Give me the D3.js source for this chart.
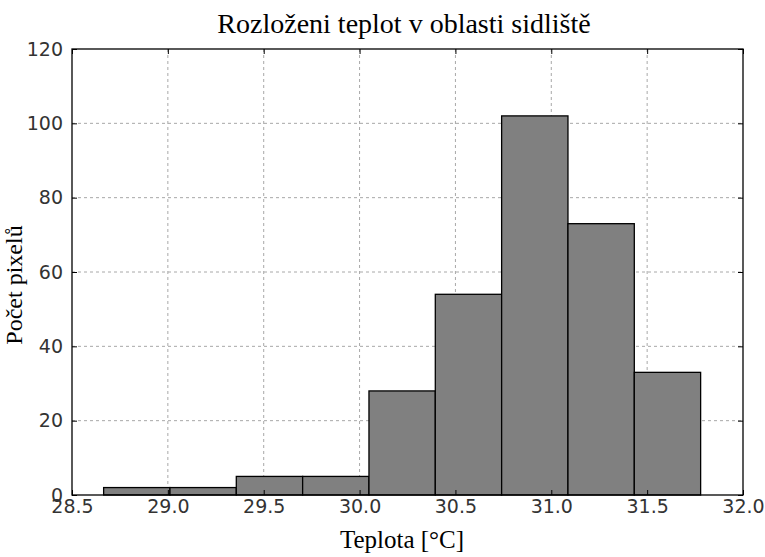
<!DOCTYPE html>
<html>
<head>
<meta charset="utf-8">
<script src="https://cdn.jsdelivr.net/npm/d3@7"></script>
<style>
    body { margin: 0; background: white; }
    .tick text { font-family: "DejaVu Sans", sans-serif; font-size: 19px; fill: #333; }
</style>
</head>
<body>
<div class="containerGraph"></div>
<script>
// bin edges of the histogram (temperature)
var binEdges = [28.665, 29.011, 29.357, 29.703, 30.049, 30.395, 30.741, 31.087, 31.433, 31.779];
// counts per bin
var binCounts = [2, 2, 5, 5, 28, 54, 102, 73, 33];
var xTicks = [28.5, 29.0, 29.5, 30.0, 30.5, 31.0, 31.5, 32.0];
var yTicks = [0, 20, 40, 60, 80, 100, 120];

var width = 765, height = 557;
var margin = {top: 49, bottom: 62, left: 72, right: 22};

var svg = d3.select(".containerGraph")
            .append("svg")
            .attr("width", width)
            .attr("height", height);

var xScale = d3.scaleLinear()
               .domain([28.5, 32.0])
               .range([margin.left, width - margin.right]);

var yScale = d3.scaleLinear()
               .domain([0, 120])
               .range([height - margin.bottom, margin.top]);

// grid lines
svg.append("g")
   .selectAll("line")
   .data(xTicks.slice(1, -1))
   .enter().append("line")
   .attr("x1", d => xScale(d)).attr("x2", d => xScale(d))
   .attr("y1", yScale(120)).attr("y2", yScale(0))
   .attr("stroke", "#a8a8a8").attr("stroke-dasharray", "3,3");

svg.append("g")
   .selectAll("line")
   .data(yTicks.slice(1, -1))
   .enter().append("line")
   .attr("y1", d => yScale(d)).attr("y2", d => yScale(d))
   .attr("x1", xScale(28.5)).attr("x2", xScale(32.0))
   .attr("stroke", "#a8a8a8").attr("stroke-dasharray", "3,3");

// bars
var bins = binCounts.map(function(c, i) { return {x0: binEdges[i], x1: binEdges[i + 1], count: c}; });
svg.append("g")
   .selectAll("rect")
   .data(bins)
   .enter().append("rect")
   .attr("x", d => xScale(d.x0))
   .attr("y", d => yScale(d.count))
   .attr("width", d => xScale(d.x1) - xScale(d.x0))
   .attr("height", d => yScale(0) - yScale(d.count))
   .attr("fill", "#808080")
   .attr("stroke", "black")
   .attr("stroke-width", 1.3);

// axes with inward ticks
var xAxis = d3.axisBottom(xScale).tickValues(xTicks).tickFormat(d3.format(".1f")).tickSizeInner(-5).tickSizeOuter(0).tickPadding(5);
var xAxisTop = d3.axisTop(xScale).tickValues(xTicks).tickFormat("").tickSizeInner(-5).tickSizeOuter(0);
var yAxis = d3.axisLeft(yScale).tickValues(yTicks).tickSizeInner(-5).tickSizeOuter(0).tickPadding(9);
var yAxisRight = d3.axisRight(yScale).tickValues(yTicks).tickFormat("").tickSizeInner(-5).tickSizeOuter(0);

svg.append("g").attr("transform", "translate(0," + yScale(0) + ")").call(xAxis);
svg.append("g").attr("transform", "translate(0," + yScale(120) + ")").call(xAxisTop);
svg.append("g").attr("transform", "translate(" + xScale(28.5) + ",0)").call(yAxis);
svg.append("g").attr("transform", "translate(" + xScale(32.0) + ",0)").call(yAxisRight);

svg.selectAll(".domain").remove();
svg.selectAll(".tick line").attr("stroke", "black");

// frame
svg.append("rect")
   .attr("x", xScale(28.5)).attr("y", yScale(120))
   .attr("width", xScale(32.0) - xScale(28.5))
   .attr("height", yScale(0) - yScale(120))
   .attr("fill", "none").attr("stroke", "black").attr("stroke-width", 1.3);

// title
svg.append("text")
   .attr("x", 404)
   .attr("y", 33)
   .attr("text-anchor", "middle")
   .attr("font-family", "Liberation Serif, serif")
   .attr("font-size", 28)
   .text("Rozloženi teplot v oblasti sidliště");

// x label
svg.append("text")
   .attr("x", 402)
   .attr("y", 548)
   .attr("text-anchor", "middle")
   .attr("font-family", "Liberation Serif, serif")
   .attr("font-size", 25)
   .text("Teplota [°C]");

// y label
svg.append("text")
   .attr("transform", "rotate(-90)")
   .attr("x", -285)
   .attr("y", 22)
   .attr("text-anchor", "middle")
   .attr("font-family", "Liberation Serif, serif")
   .attr("font-size", 24)
   .text("Počet pixelů");
</script>
</body>
</html>
